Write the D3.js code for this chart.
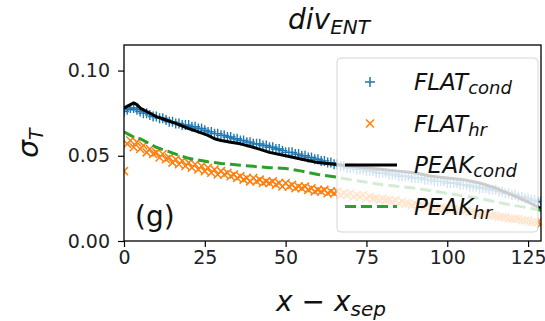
<!DOCTYPE html>
<html>
<head>
<meta charset="utf-8">
<script src="https://cdn.jsdelivr.net/npm/d3@7"></script>
<style>
  body { margin: 0; background: #fff; }
  svg { display: block; font-family: "DejaVu Sans", sans-serif; }
</style>
</head>
<body>
<svg id="chart" width="545" height="321"></svg>
<script>
// FLAT series: one value per x = 0..129
const flatCond = [
  .076, .077, .078, .078, .077, .076, .075, .075, .074, .073,
  .073, .072, .072, .071, .070, .070, .069, .069, .068, .068,
  .068, .067, .067, .066, .066, .065, .064, .064, .063, .063,
  .062, .062, .061, .061, .060, .060, .059, .059, .058, .058,
  .057, .057, .057, .056, .056, .055, .055, .054, .054, .053,
  .052, .052, .052, .051, .051, .050, .050, .049, .049, .048,
  .048, .047, .047, .046, .046, .045, .045, .044, .044, .043,
  .043, .043, .042, .042, .042, .041, .041, .041, .040, .040,
  .040, .040, .039, .039, .039, .038, .038, .038, .038, .037,
  .037, .037, .037, .036, .036, .036, .035, .035, .035, .035,
  .034, .034, .034, .034, .033, .033, .033, .032, .032, .032,
  .031, .031, .031, .030, .030, .030, .029, .029, .028, .028,
  .027, .027, .026, .026, .025, .025, .024, .024, .023, .023
];
const flatHr = [
  .041, .057, .059, .055, .058, .054, .056, .052, .054, .051,
  .052, .049, .051, .048, .049, .046, .048, .045, .047, .044,
  .046, .043, .045, .042, .044, .041, .043, .040, .042, .039,
  .041, .039, .040, .038, .039, .037, .038, .036, .037, .035,
  .037, .035, .036, .034, .035, .034, .035, .033, .034, .032,
  .034, .032, .033, .031, .032, .031, .032, .030, .031, .029,
  .030, .029, .030, .028, .029, .028, .029, .027, .028, .027,
  .028, .026, .027, .026, .027, .025, .026, .025, .025, .024,
  .025, .024, .024, .023, .024, .022, .023, .022, .022, .021,
  .022, .021, .021, .020, .021, .020, .020, .019, .020, .019,
  .019, .018, .019, .018, .018, .017, .018, .017, .017, .016,
  .016, .016, .016, .015, .015, .015, .014, .014, .014, .013,
  .013, .013, .013, .012, .012, .012, .011, .011, .011, .010
];

// PEAK series: read at these x positions
const peakX = [0, 1, 2, 3, 4, 5, 7, 10, 13, 16, 20, 23, 26, 28, 30, 33, 36, 40, 45, 50,
  55, 60, 65, 70, 75, 80, 85, 90, 95, 100, 105, 110, 115, 120, 125, 129];
const peakCond = [.078, .079, .080, .081, .080, .078, .076, .073, .071, .069,
  .066, .064, .062, .060, .059, .058, .057, .055, .052, .050,
  .048, .046, .045, .044, .043, .042, .041, .040, .038, .037,
  .036, .034, .031, .027, .023, .019];
const peakHr = [.064, .063, .062, .061, .060, .060, .058, .055, .053, .051,
  .0485, .0475, .0465, .046, .0455, .045, .0445, .0438, .043, .0426,
  .041, .039, .0377, .036, .0345, .033, .032, .031, .0295, .028,
  .0265, .025, .023, .021, .0195, .018];

const xTicks = [0, 25, 50, 75, 100, 125];
const yTicks = [0, 0.05, 0.10];

const colors = { cond: "#1f77b4", hr: "#ff7f0e", peakCond: "#000000", peakHr: "#2ca02c" };

const svg = d3.select("#chart");
const width = 545, height = 321;
const margin = { top: 45, right: 4, bottom: 80, left: 124 };
const innerWidth = width - margin.left - margin.right;
const innerHeight = height - margin.top - margin.bottom;

const x = d3.scaleLinear().domain([0, 129]).range([0, innerWidth]);
const y = d3.scaleLinear().domain([0, 0.115]).range([innerHeight, 0]);

const g = svg.append("g").attr("transform", `translate(${margin.left}, ${margin.top})`);

g.append("clipPath").attr("id", "clip")
  .append("rect").attr("width", innerWidth).attr("height", innerHeight);

const plot = g.append("g").attr("clip-path", "url(#clip)");

const plusPath = (s) => `M${-s},0H${s}M0,${-s}V${s}`;
const crossPath = (s) => `M${-s},${-s}L${s},${s}M${-s},${s}L${s},${-s}`;

// FLAT_cond markers
plot.append("g")
  .selectAll("path")
  .data(flatCond)
  .join("path")
  .attr("transform", (d, i) => `translate(${x(i)}, ${y(d)})`)
  .attr("d", plusPath(5))
  .attr("stroke", colors.cond)
  .attr("stroke-width", 1.4)
  .attr("fill", "none");

// FLAT_hr markers
plot.append("g")
  .selectAll("path")
  .data(flatHr)
  .join("path")
  .attr("transform", (d, i) => `translate(${x(i)}, ${y(d)})`)
  .attr("d", crossPath(4))
  .attr("stroke", colors.hr)
  .attr("stroke-width", 1.5)
  .attr("fill", "none");

const line = d3.line().x((d, i) => x(peakX[i])).y((d) => y(d));

plot.append("path")
  .datum(peakCond)
  .attr("d", line)
  .attr("fill", "none")
  .attr("stroke", colors.peakCond)
  .attr("stroke-width", 3)
  .attr("stroke-linejoin", "round");

plot.append("path")
  .datum(peakHr)
  .attr("d", line)
  .attr("fill", "none")
  .attr("stroke", colors.peakHr)
  .attr("stroke-width", 3)
  .attr("stroke-dasharray", "11,5");

// axes
const xAxis = d3.axisBottom(x).tickValues(xTicks).tickSize(6).tickPadding(4);
const yAxis = d3.axisLeft(y).tickValues(yTicks).tickSize(6).tickPadding(8).tickFormat(d3.format(".2f"));

const xg = g.append("g").attr("transform", `translate(0, ${innerHeight})`).call(xAxis);
const yg = g.append("g").call(yAxis);
[xg, yg].forEach((a) => {
  a.select(".domain").remove();
  a.selectAll(".tick line").attr("stroke", "#000").attr("stroke-width", 1.2);
  a.selectAll(".tick text").attr("font-size", 19).attr("fill", "#222")
    .attr("font-family", "DejaVu Sans");
});

// frame
g.append("rect")
  .attr("width", innerWidth).attr("height", innerHeight)
  .attr("fill", "none").attr("stroke", "#000").attr("stroke-width", 1.3);

// "(g)" label
g.append("text")
  .attr("x", 11).attr("y", 181)
  .attr("font-size", 28)
  .attr("fill", "#111")
  .text("(g)");

// legend
const legend = svg.append("g").attr("transform", "translate(337, 58)");
legend.append("rect")
  .attr("width", 201).attr("height", 174).attr("rx", 4)
  .attr("fill", "#fff").attr("fill-opacity", 0.8)
  .attr("stroke", "#d6d6d6").attr("stroke-width", 1);

const entries = [
  { name: "FLAT", sub: "cond", type: "plus", color: colors.cond },
  { name: "FLAT", sub: "hr", type: "cross", color: colors.hr },
  { name: "PEAK", sub: "cond", type: "line", color: colors.peakCond },
  { name: "PEAK", sub: "hr", type: "dash", color: colors.peakHr }
];

const item = legend.selectAll("g.item")
  .data(entries)
  .join("g")
  .attr("class", "item")
  .attr("transform", (d, i) => `translate(0, ${24 + i * 41.5})`);

item.each(function (d) {
  const el = d3.select(this);
  if (d.type === "plus" || d.type === "cross") {
    el.append("path")
      .attr("transform", "translate(33, 0)")
      .attr("d", d.type === "plus" ? plusPath(5) : crossPath(4))
      .attr("stroke", d.color).attr("stroke-width", 1.5).attr("fill", "none");
  } else {
    el.append("line")
      .attr("x1", 8).attr("x2", 60).attr("y1", 0).attr("y2", 0)
      .attr("stroke", d.color).attr("stroke-width", 3)
      .attr("stroke-dasharray", d.type === "dash" ? "11,5" : null);
  }
  const t = el.append("text")
    .attr("x", 77).attr("y", 8)
    .attr("font-size", 23).attr("font-style", "italic").attr("fill", "#111");
  t.append("tspan").text(d.name);
  t.append("tspan").attr("font-size", 18).attr("dy", 4).text(d.sub);
});

// title
const title = svg.append("text")
  .attr("x", 329).attr("y", 29)
  .attr("text-anchor", "middle")
  .attr("font-size", 28).attr("font-style", "italic").attr("fill", "#111");
title.append("tspan").text("div");
title.append("tspan").attr("font-size", 20).attr("dy", 5).text("ENT");

// axis labels
const xLabel = svg.append("text")
  .attr("x", 331).attr("y", 311)
  .attr("text-anchor", "middle")
  .attr("font-size", 28).attr("font-style", "italic").attr("fill", "#111");
xLabel.append("tspan").text("x");
xLabel.append("tspan").attr("font-style", "normal").text(" \u2212 ");
xLabel.append("tspan").text("x");
xLabel.append("tspan").attr("font-size", 20).attr("dy", 5).text("sep");

const yLabel = svg.append("text")
  .attr("transform", `translate(38, ${margin.top + innerHeight / 2}) rotate(-90)`)
  .attr("text-anchor", "middle")
  .attr("font-size", 28).attr("font-style", "italic").attr("fill", "#111");
yLabel.append("tspan").text("\u03c3");
yLabel.append("tspan").attr("font-size", 19).attr("dy", 5).text("T");
</script>
</body>
</html>
